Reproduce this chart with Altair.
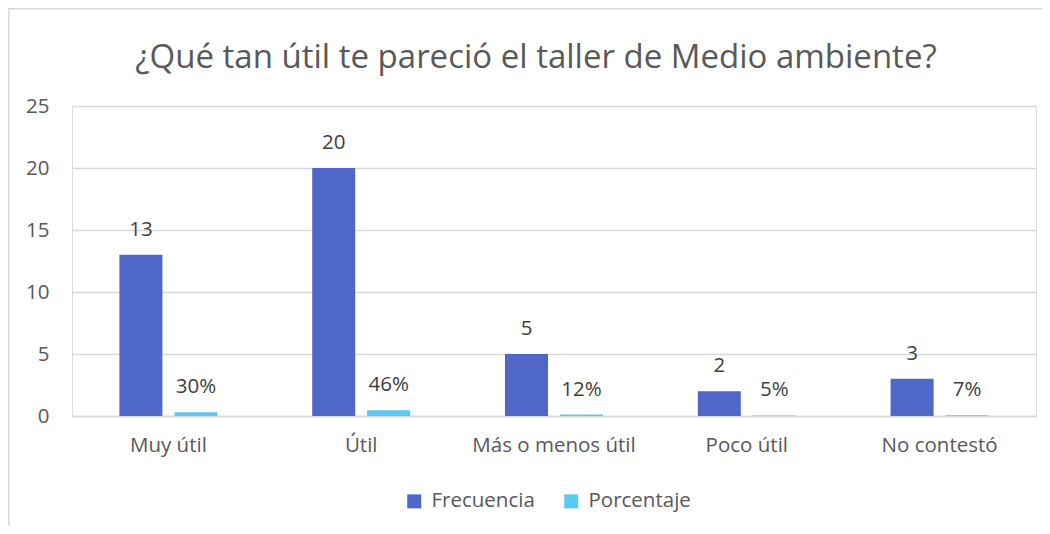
import altair as alt
import pandas as pd

categorias = ["Muy útil", "Útil", "Más o menos útil", "Poco útil", "No contestó"]
frecuencia = [13, 20, 5, 2, 3]
porcentaje = [0.30, 0.46, 0.12, 0.05, 0.07]
series = ["Frecuencia", "Porcentaje"]
colores = ["#4F68C7", "#5BC9F1"]

rows = []
for c, f, p in zip(categorias, frecuencia, porcentaje):
    rows.append({"categoria": c, "serie": "Frecuencia", "valor": f})
    rows.append({"categoria": c, "serie": "Porcentaje", "valor": p})
df = pd.DataFrame(rows)

FONT = "Open Sans"
FS = 20.5

base = alt.Chart(df).transform_calculate(
    etiqueta="datum.serie == 'Porcentaje' ? format(datum.valor, '.0%') : format(datum.valor, 'd')"
).encode(
    x=alt.X("categoria:N", sort=categorias, title=None,
            scale=alt.Scale(paddingInner=0, paddingOuter=0),
            axis=alt.Axis(labelAngle=0, ticks=False, tickSize=0, domain=True,
                          domainColor="#D9D9D9", domainWidth=1.5, labelPadding=19,
                          labelFontSize=FS, labelColor="#595959", labelFont=FONT)),
    xOffset=alt.XOffset("serie:N", sort=series,
                        scale=alt.Scale(paddingInner=0.218, paddingOuter=0.862)),
)

bars = base.mark_bar().encode(
    y=alt.Y("valor:Q", title=None,
            scale=alt.Scale(domain=[0, 25], nice=False),
            axis=alt.Axis(values=[0, 5, 10, 15, 20, 25], ticks=False, domain=False,
                          grid=True, gridColor="#D9D9D9", gridWidth=1.5,
                          labelPadding=23, labelFontSize=FS, labelColor="#595959",
                          labelFont=FONT)),
    color=alt.Color("serie:N", sort=series,
                    scale=alt.Scale(domain=series, range=colores),
                    legend=alt.Legend(title=None, orient="none", direction="horizontal",
                                      legendX=332, legendY=385, symbolType="square",
                                      symbolSize=196, symbolStrokeWidth=0,
                                      labelFontSize=FS, labelColor="#595959",
                                      labelFont=FONT, labelOffset=7,
                                      columnPadding=26, padding=0)),
)

labels = base.mark_text(baseline="middle", dy=-25, fontSize=FS, color="#404040",
                        font=FONT).encode(
    y=alt.Y("valor:Q"),
    text="etiqueta:N",
)

marco = alt.Chart(pd.DataFrame({"k": [0]})).mark_rect(
    fill="white", fillOpacity=0, stroke="#D9D9D9", strokeWidth=1.5
).encode(
    x=alt.value(-63.2), x2=alt.value(990), y=alt.value(-97.2), y2=alt.value(440)
)

chart = alt.layer(marco, bars, labels).properties(
    width=964,
    height=310,
    autosize=alt.AutoSizeParams(type="none"),
    padding={"left": 64, "top": 98, "right": 6, "bottom": 110},
    title=alt.TitleParams(
        "¿Qué tan útil te pareció el taller de Medio ambiente?",
        fontSize=33, font=FONT, fontWeight="normal", color="#595959",
        anchor="middle", dx=-18, offset=-67,
    ),
).configure_view(stroke=None).configure(background="white")

chart.save("out.html", embed_options={"renderer": "svg", "actions": False})
